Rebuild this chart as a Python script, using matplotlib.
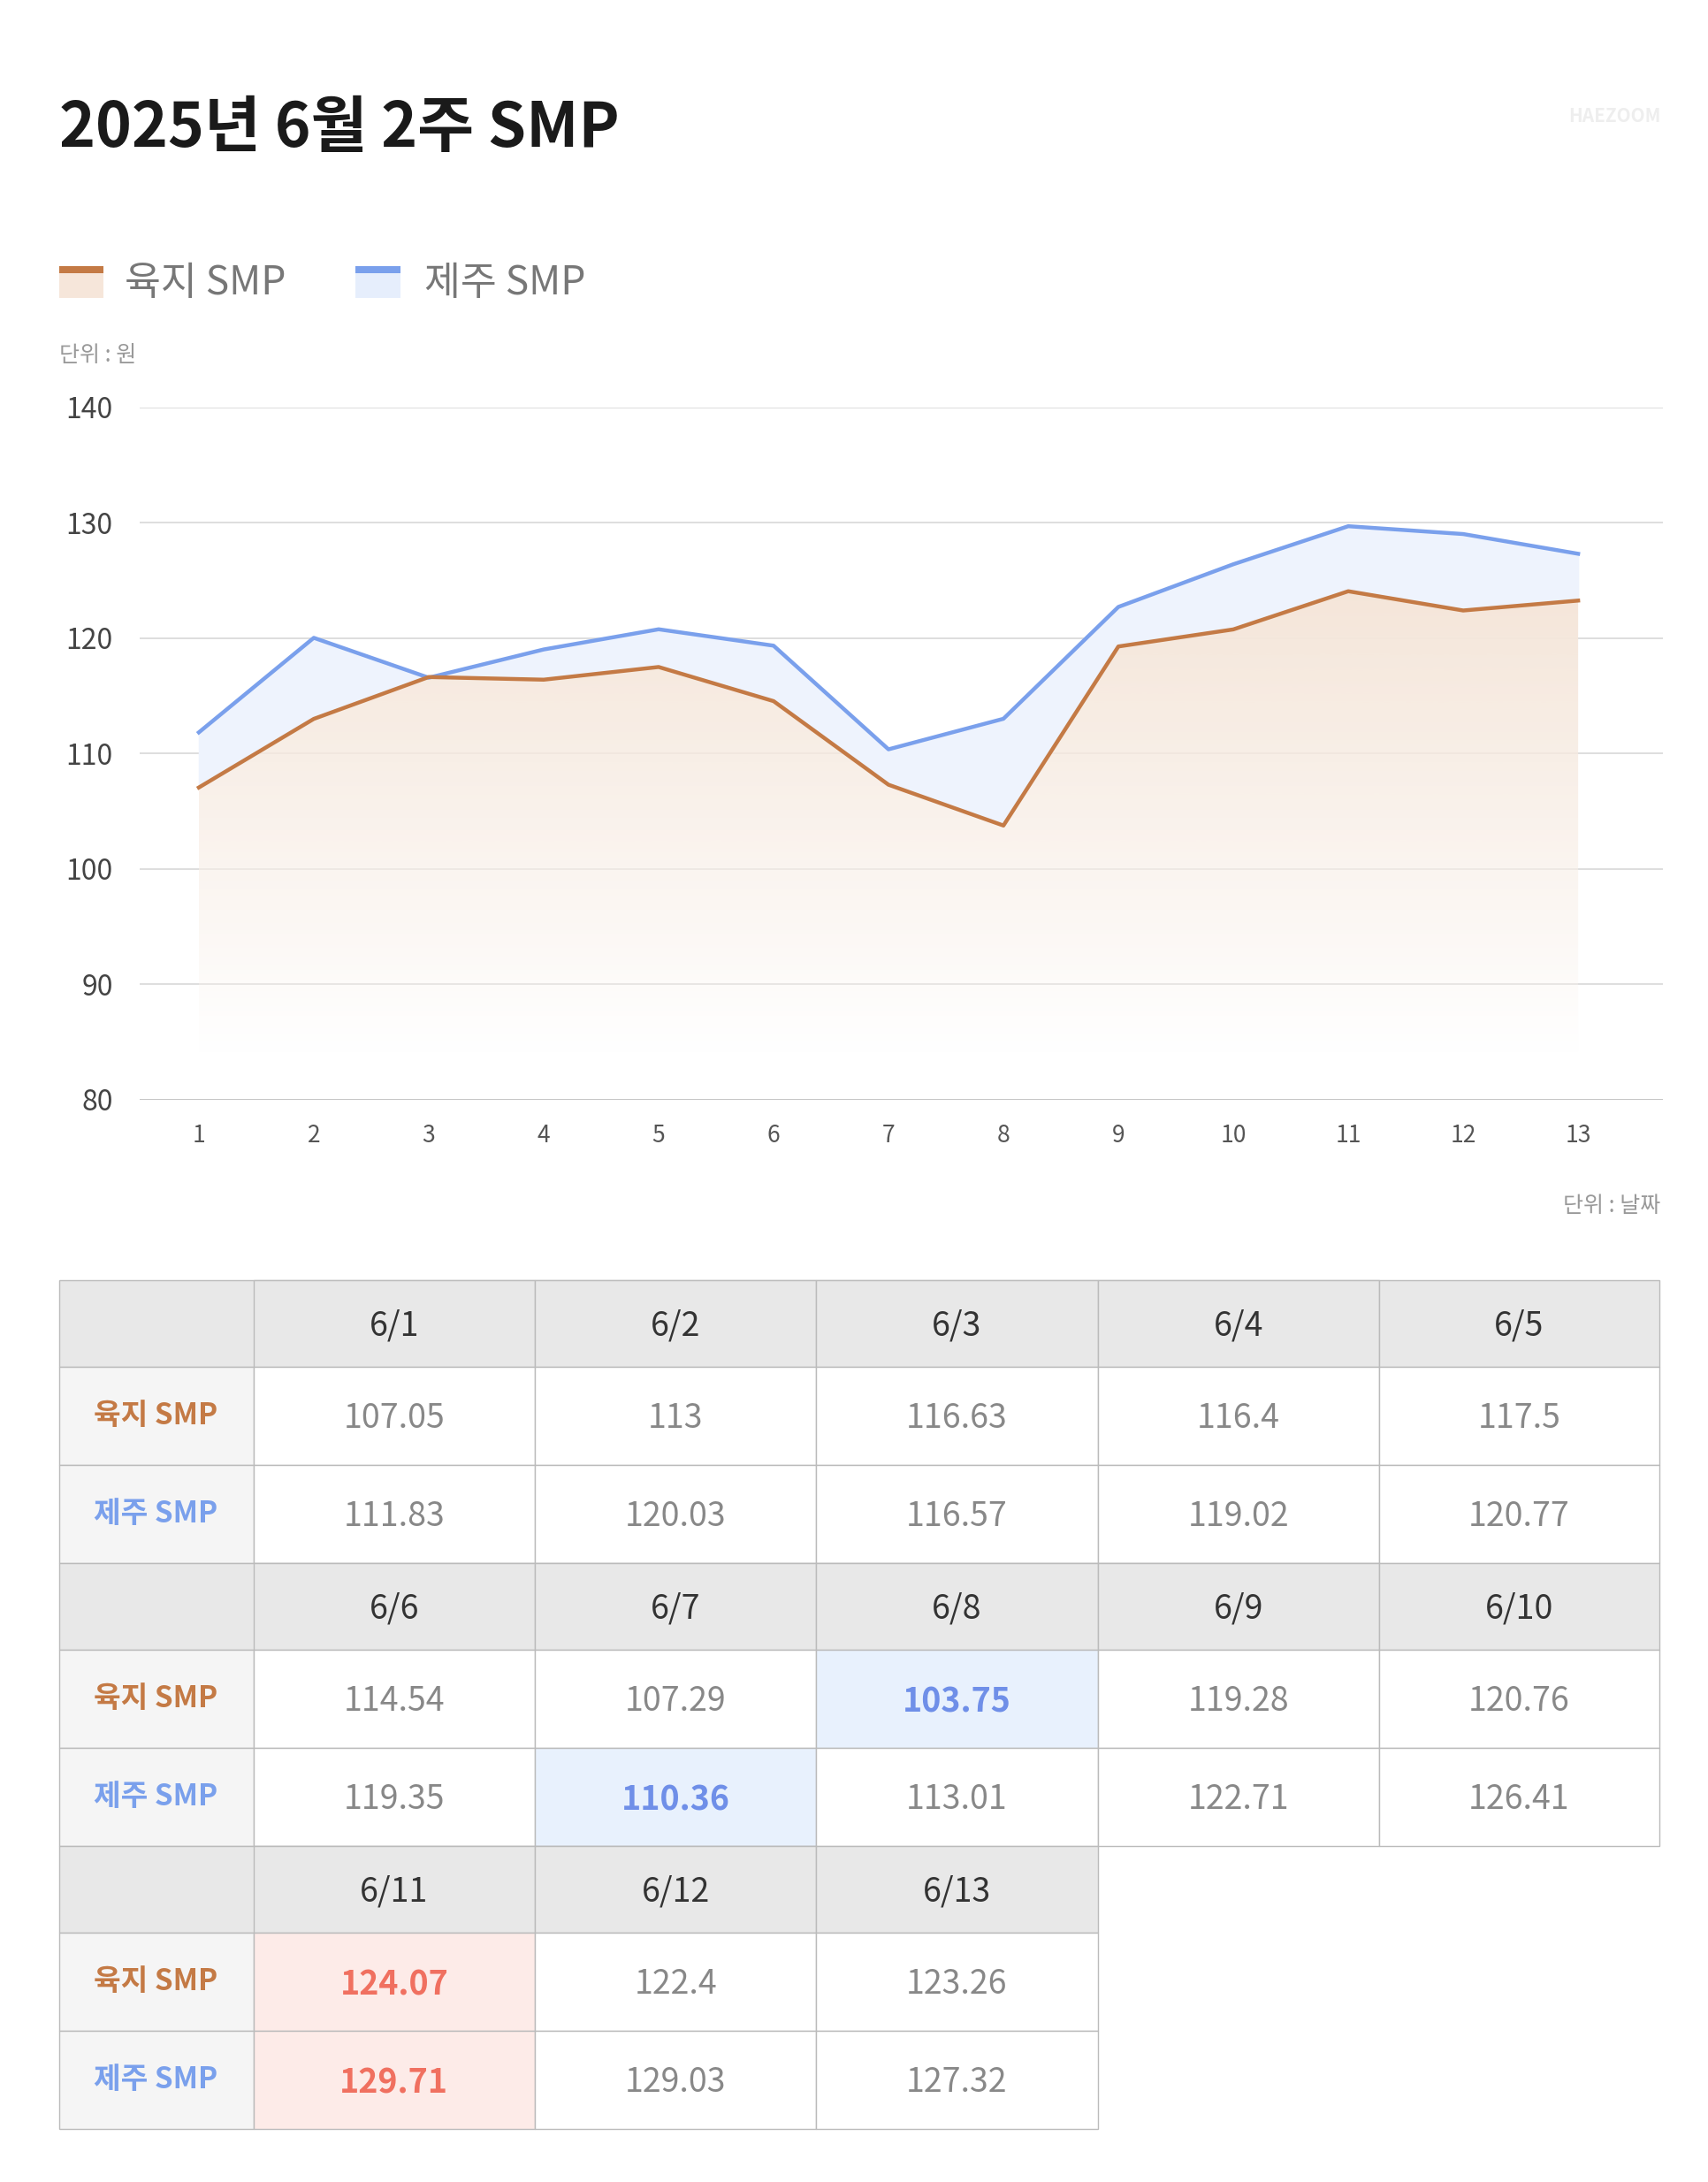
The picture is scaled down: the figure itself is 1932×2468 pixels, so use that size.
import numpy as np
import matplotlib
matplotlib.use("Agg")
import matplotlib.pyplot as plt
from matplotlib.patches import Rectangle, Polygon

plt.rcParams["font.family"] = "Noto Sans CJK KR"

days = list(range(1, 14))
dates = [f"6/{d}" for d in days]
land = [107.05, 113, 116.63, 116.4, 117.5, 114.54, 107.29, 103.75, 119.28, 120.76, 124.07, 122.4, 123.26]
jeju = [111.83, 120.03, 116.57, 119.02, 120.77, 119.35, 110.36, 113.01, 122.71, 126.41, 129.71, 129.03, 127.32]
land_txt = ["107.05", "113", "116.63", "116.4", "117.5", "114.54", "107.29", "103.75", "119.28", "120.76", "124.07", "122.4", "123.26"]
jeju_txt = ["111.83", "120.03", "116.57", "119.02", "120.77", "119.35", "110.36", "113.01", "122.71", "126.41", "129.71", "129.03", "127.32"]
yticks = [80, 90, 100, 110, 120, 130, 140]

ORANGE = "#c47a45"
BLUE = "#7aa0ec"
W, H = 1220, 1558

fig = plt.figure(figsize=(19.32, 24.68), dpi=100)
bg = fig.add_axes([0, 0, 1, 1])
bg.set_xlim(0, W)
bg.set_ylim(H, 0)
bg.axis("off")

bg.text(42, 92, "2025년 6월 2주 SMP", fontsize=50, fontweight="bold", color="#1a1a1a", va="center")
bg.text(1186, 83, "HAEZOOM", fontsize=15, color="#eeeeee", ha="right", va="center", fontweight="bold")
# legend
bg.add_patch(Rectangle((42, 191), 32, 22, fc="#f6e6da", ec="none"))
bg.add_patch(Rectangle((42, 190), 32, 5, fc=ORANGE, ec="none"))
bg.text(89, 202, "육지 SMP", fontsize=32, color="#777777", va="center")
bg.add_patch(Rectangle((254, 191), 32, 22, fc="#e6eefc", ec="none"))
bg.add_patch(Rectangle((254, 190), 32, 5, fc=BLUE, ec="none"))
bg.text(303, 202, "제주 SMP", fontsize=32, color="#777777", va="center")
bg.text(42, 254, "단위 : 원", fontsize=18, color="#999999", va="center")
bg.text(1186, 861, "단위 : 날짜", fontsize=18, color="#999999", va="center", ha="right")

# chart
ax = fig.add_axes([100 / W, 1 - 785 / H, 1088 / W, (785 - 291) / H])
ax.set_xlim(0.488, 13.74)
ax.set_ylim(80, 140)
for s in ax.spines.values():
    s.set_visible(False)
ax.set_yticks(yticks)
ax.set_yticklabels([str(v) for v in yticks], fontsize=23, color="#444444")
ax.set_xticks(days)
ax.set_xticklabels([str(d) for d in days], fontsize=19, color="#555555")
ax.tick_params(length=0, pad=20)
ax.yaxis.set_tick_params(pad=22)
for v in yticks:
    ax.axhline(v, color="#d8d8d8" if v > 80 else "#bbbbbb", lw=1.2, zorder=0)

# gradient fill under land line
grad = np.linspace(0, 1, 256).reshape(-1, 1)
cmap = matplotlib.colors.LinearSegmentedColormap.from_list("g", [(1, 1, 1, 0), (0.96, 0.90, 0.85, 1)])
im = ax.imshow(grad ** 0.5, extent=[1, 13, 84, 125], origin="lower", aspect="auto", cmap=cmap, zorder=1)
poly = Polygon(list(zip(days, land)) + [(13, 84), (1, 84)], closed=True, transform=ax.transData)
im.set_clip_path(poly)
ax.fill_between(days, land, jeju, color="#eef3fd", zorder=1)
ax.plot(days, jeju, color=BLUE, lw=3.2, zorder=3)
ax.plot(days, land, color=ORANGE, lw=3.2, zorder=3)

# table
cols = [42, 181, 382, 583, 784, 985, 1185]
row_tops = [914, 1116, 1318]
HH, RH = 62, 70
hl_blue = {(7, "land"), (6, "jeju")}
hl_red = {(10, "land"), (10, "jeju")}
lc = "#bbbbbb"
for b, top in enumerate(row_tops):
    idx = list(range(b * 5, min(b * 5 + 5, 13)))
    right = cols[len(idx)]
    bg.add_patch(Rectangle((42, top), right - 42, HH, fc="#e8e8e8", ec=lc, lw=1))
    for j, i in enumerate(idx):
        x0, x1 = cols[j + 1], cols[j + 2]
        bg.add_patch(Rectangle((x0, top), x1 - x0, HH, fc="#e8e8e8", ec=lc, lw=1))
        bg.text((x0 + x1) / 2, top + HH / 2 + 2, dates[i], fontsize=27, color="#333333",
                ha="center", va="center", fontweight="medium")
    for r, (key, name, colr, vals) in enumerate([("land", "육지 SMP", ORANGE, land_txt),
                                                  ("jeju", "제주 SMP", BLUE, jeju_txt)]):
        y0 = top + HH + r * RH
        bg.add_patch(Rectangle((42, y0), 139, RH, fc="#f5f5f5", ec=lc, lw=1))
        bg.text(111, y0 + RH / 2, name, fontsize=24, color=colr, ha="center", va="center", fontweight="bold")
        for j, i in enumerate(idx):
            x0, x1 = cols[j + 1], cols[j + 2]
            fc, tc, fw = "white", "#888888", "normal"
            if (i, key) in hl_blue:
                fc, tc, fw = "#e8f1fd", "#6f8fe8", "bold"
            elif (i, key) in hl_red:
                fc, tc, fw = "#fdebe8", "#f07060", "bold"
            bg.add_patch(Rectangle((x0, y0), x1 - x0, RH, fc=fc, ec=lc, lw=1))
            bg.text((x0 + x1) / 2, y0 + RH / 2 + 2, vals[i], fontsize=27, color=tc,
                    ha="center", va="center", fontweight=fw)

fig.savefig("out.png", dpi=100, facecolor="white")
